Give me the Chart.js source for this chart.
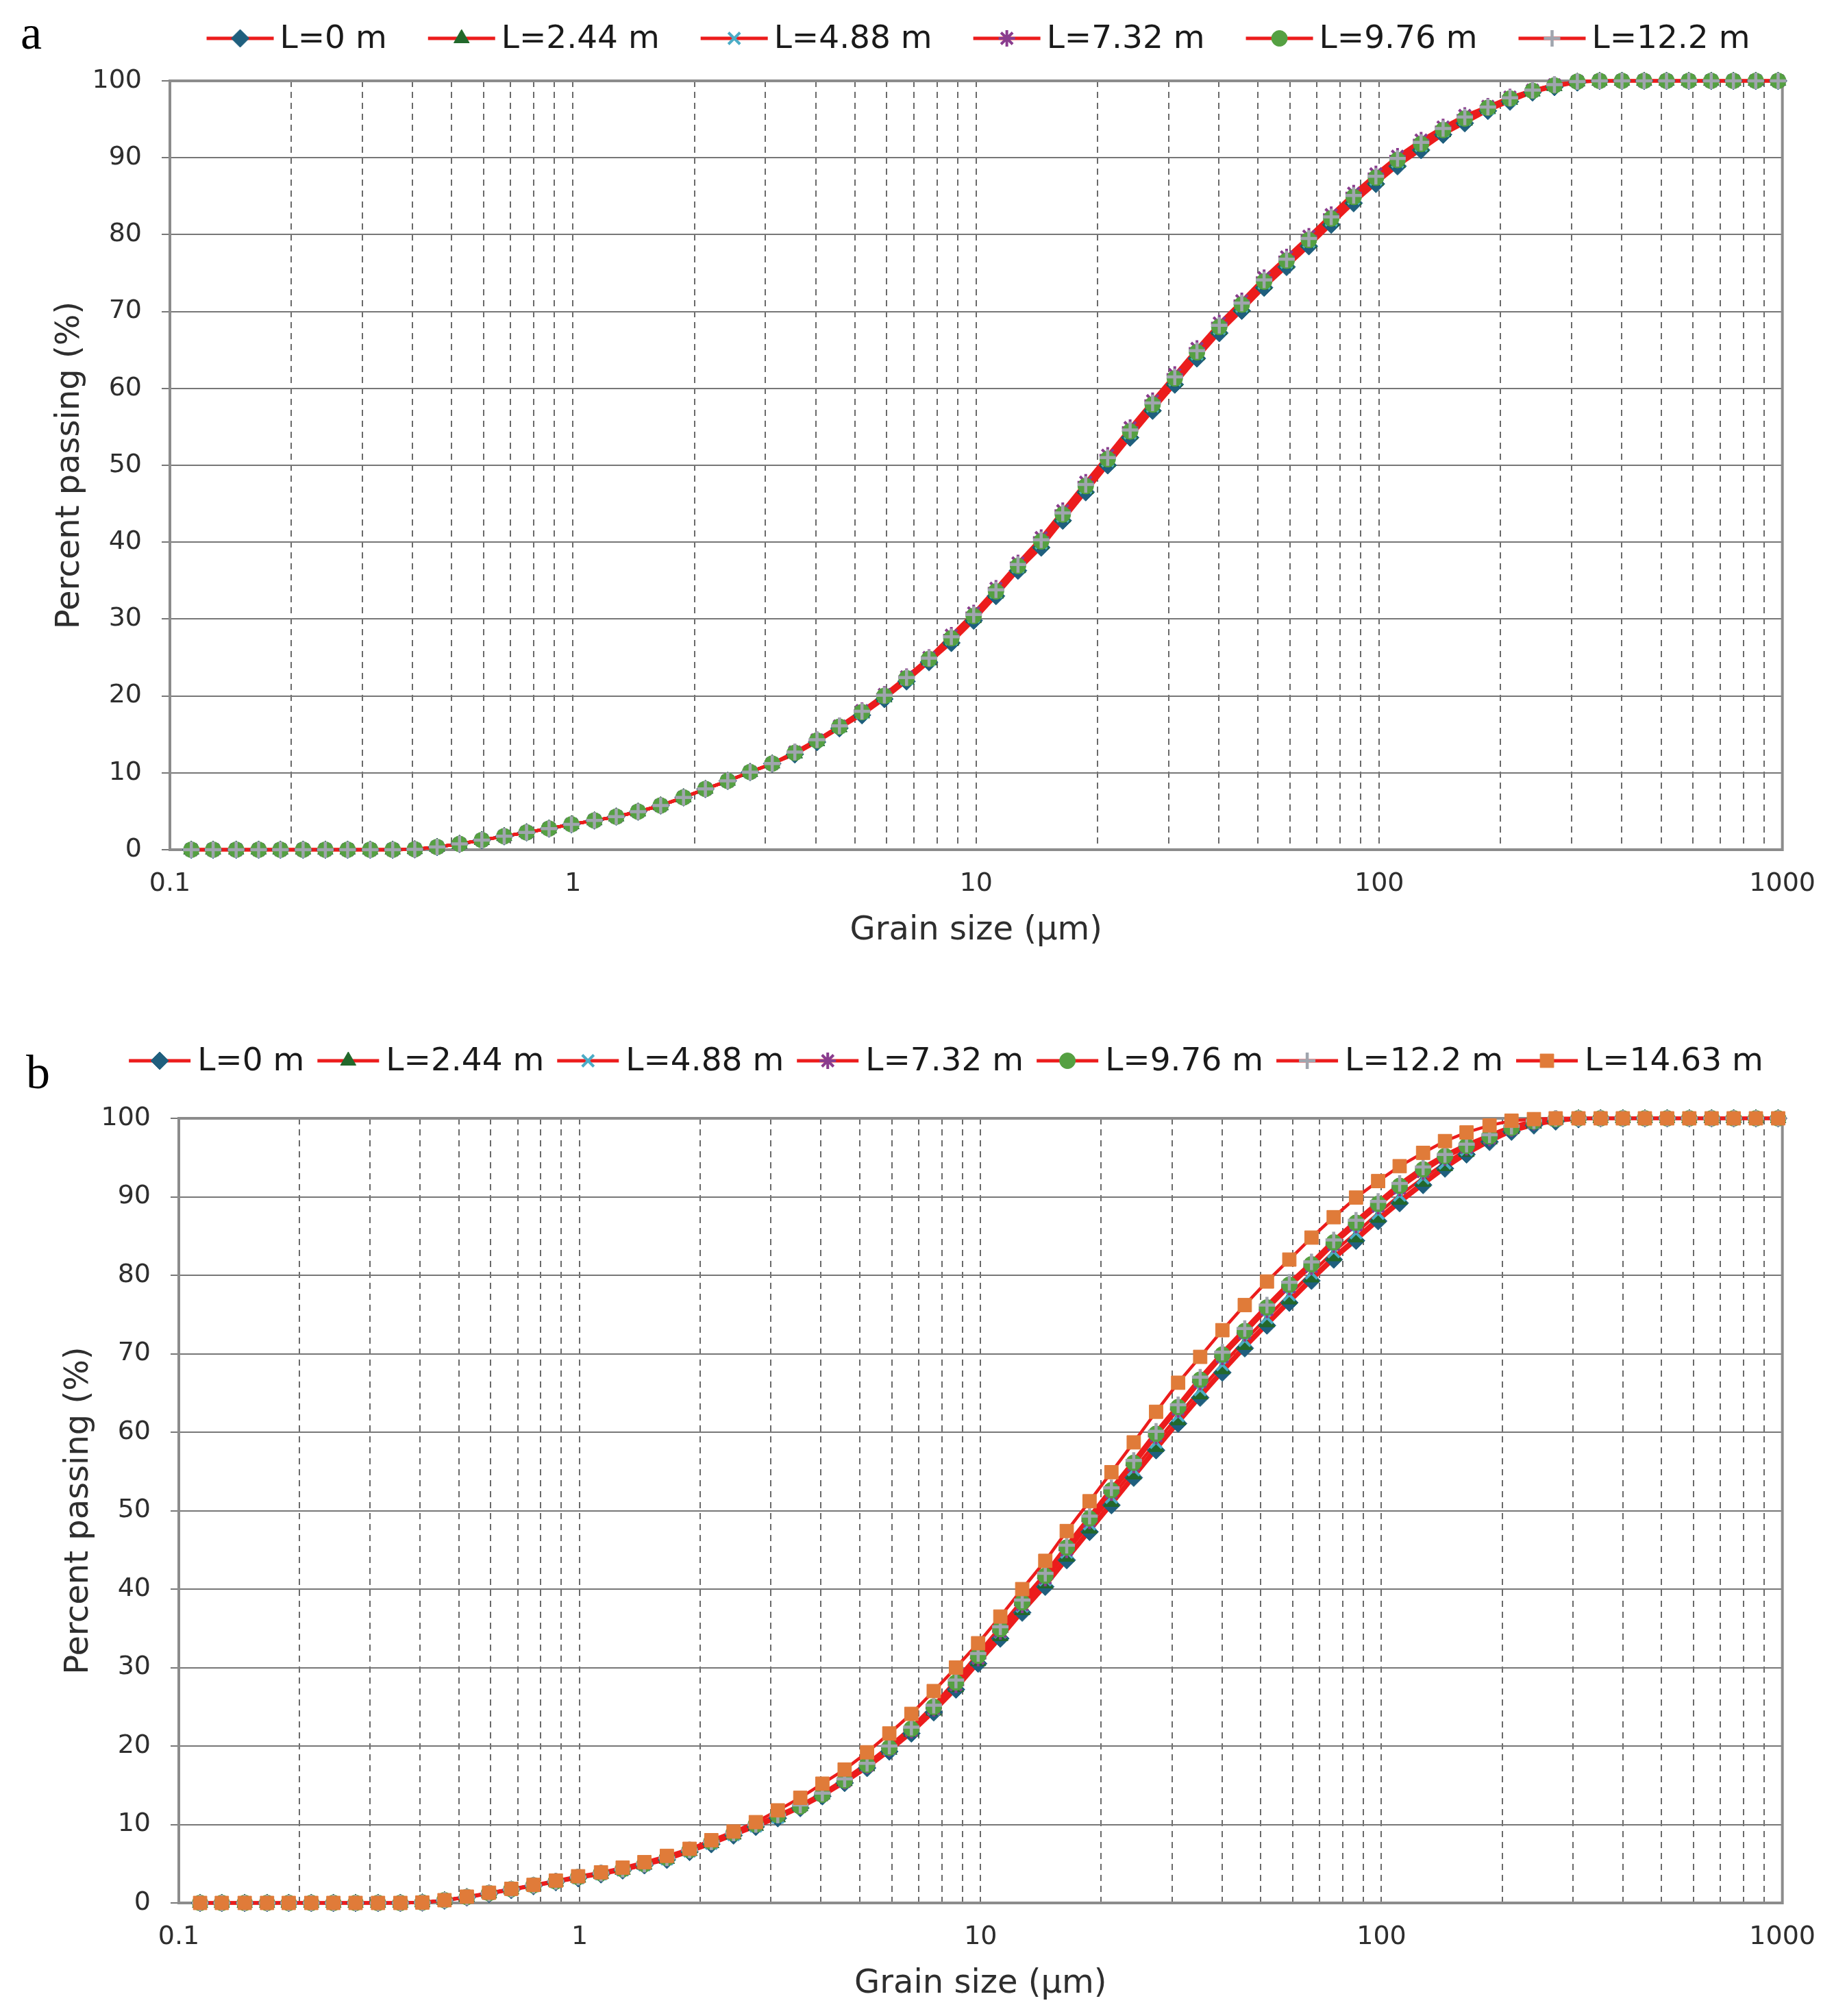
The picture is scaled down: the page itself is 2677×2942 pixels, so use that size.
<!DOCTYPE html>
<html>
<head>
<meta charset="utf-8">
<title>Grain size distribution</title>
<script src="https://cdn.jsdelivr.net/npm/chart.js@4.4.1/dist/chart.umd.min.js"></script>
<style>
  html, body { margin: 0; padding: 0; background: #fff; }
  body { width: 2677px; height: 2942px; position: relative; overflow: hidden; }
  canvas { position: absolute; left: 0; }
  #chartA { top: 0; }
  #chartB { top: 1480px; }
  .lettre {
    position: absolute;
    font-family: "Liberation Serif", "DejaVu Serif", serif;
    font-size: 70px;
    line-height: 70px;
    color: #000;
  }
</style>
</head>
<body>
<div class="lettre" style="left:30px; top:13px;">a</div>
<div class="lettre" style="left:38px; top:1530px;">b</div>
<canvas id="chartA" width="2677" height="1400"></canvas>
<canvas id="chartB" width="2677" height="1462"></canvas>
<script>
/* =====================================
   Données
===================================== */
const grainSizes = [
  0.113, 0.128, 0.146, 0.166, 0.188, 0.214, 0.243, 0.276, 0.314, 0.357,
  0.405, 0.460, 0.523, 0.594, 0.675, 0.767, 0.872, 0.991, 1.13, 1.28,
  1.45, 1.65, 1.88, 2.13, 2.42, 2.75, 3.12, 3.55, 4.03, 4.58,
  5.21, 5.92, 6.72, 7.64, 8.68, 9.86, 11.2, 12.7, 14.5, 16.4,
  18.7, 21.2, 24.1, 27.4, 31.1, 35.3, 40.1, 45.6, 51.8, 58.9,
  66.9, 76.0, 86.4, 98.1, 111, 127, 144, 163, 186, 211,
  240, 272, 310, 352, 400, 454, 516, 586, 666, 756,
  859, 976
];

const namesA = ["L=0 m", "L=2.44 m", "L=4.88 m", "L=7.32 m", "L=9.76 m", "L=12.2 m"];
const namesB = ["L=0 m", "L=2.44 m", "L=4.88 m", "L=7.32 m", "L=9.76 m", "L=12.2 m", "L=14.63 m"];

const xLabelValues = [0.1, 1, 10, 100, 1000];
const xDecades = [0.1, 1, 10, 100];
const xMultiples = [1, 2, 3, 4, 5, 6, 7, 8, 9];

// (a)
const passA_L0 = [
  0, 0, 0, 0, 0, 0, 0, 0, 0, 0,
  0.05, 0.35, 0.75, 1.25, 1.75, 2.25, 2.75, 3.3, 3.8, 4.3,
  4.95, 5.75, 6.8, 7.9, 8.95, 10.1, 11.2, 12.4, 14.0, 15.8,
  17.5, 19.6, 21.9, 24.4, 26.9, 29.8, 33.0, 36.3, 39.3, 42.8,
  46.5, 50.0, 53.6, 57.1, 60.5, 63.9, 67.2, 70.1, 73.1, 75.8,
  78.5, 81.3, 84.1, 86.6, 88.9, 91.0, 93.0, 94.5, 96.1, 97.3,
  98.5, 99.2, 99.8, 100, 100, 100, 100, 100, 100, 100,
  100, 100
];
const passA_L244 = [
  0, 0, 0, 0, 0, 0, 0, 0, 0, 0,
  0.05, 0.35, 0.75, 1.25, 1.75, 2.25, 2.75, 3.3, 3.8, 4.3,
  4.95, 5.75, 6.8, 7.9, 8.95, 10.1, 11.2, 12.5, 14.1, 15.9,
  17.7, 19.8, 22.1, 24.6, 27.2, 30.1, 33.3, 36.6, 39.7, 43.2,
  46.9, 50.4, 54.0, 57.5, 60.9, 64.3, 67.6, 70.5, 73.5, 76.2,
  78.9, 81.7, 84.5, 87.0, 89.3, 91.4, 93.3, 94.8, 96.3, 97.5,
  98.6, 99.3, 99.9, 100, 100, 100, 100, 100, 100, 100,
  100, 100
];
const passA_L488 = [
  0, 0, 0, 0, 0, 0, 0, 0, 0, 0,
  0.05, 0.35, 0.75, 1.25, 1.75, 2.25, 2.75, 3.3, 3.8, 4.3,
  4.95, 5.75, 6.8, 7.9, 8.95, 10.1, 11.2, 12.6, 14.2, 16.0,
  17.8, 19.9, 22.2, 24.7, 27.4, 30.3, 33.5, 36.8, 39.9, 43.4,
  47.1, 50.6, 54.2, 57.7, 61.1, 64.5, 67.8, 70.7, 73.7, 76.4,
  79.1, 81.9, 84.7, 87.2, 89.5, 91.6, 93.5, 95.0, 96.4, 97.6,
  98.7, 99.4, 99.9, 100, 100, 100, 100, 100, 100, 100,
  100, 100
];
const passA_L732 = [
  0, 0, 0, 0, 0, 0, 0, 0, 0, 0,
  0.05, 0.35, 0.75, 1.25, 1.75, 2.25, 2.75, 3.3, 3.8, 4.3,
  4.95, 5.75, 6.8, 7.9, 8.95, 10.1, 11.2, 12.7, 14.3, 16.1,
  18.1, 20.2, 22.5, 25.0, 27.9, 30.8, 34.0, 37.3, 40.6, 44.1,
  47.8, 51.3, 54.9, 58.4, 61.8, 65.2, 68.5, 71.4, 74.4, 77.1,
  79.8, 82.6, 85.4, 87.9, 90.2, 92.3, 94.0, 95.5, 96.7, 97.9,
  98.8, 99.5, 99.9, 100, 100, 100, 100, 100, 100, 100,
  100, 100
];
const passA_L976 = [
  0, 0, 0, 0, 0, 0, 0, 0, 0, 0,
  0.05, 0.35, 0.75, 1.25, 1.75, 2.25, 2.75, 3.3, 3.8, 4.3,
  4.95, 5.75, 6.8, 7.9, 8.95, 10.1, 11.2, 12.6, 14.2, 16.0,
  17.9, 20.0, 22.3, 24.8, 27.5, 30.4, 33.6, 36.9, 40.1, 43.6,
  47.3, 50.8, 54.4, 57.9, 61.3, 64.7, 68.0, 70.9, 73.9, 76.6,
  79.3, 82.1, 84.9, 87.4, 89.7, 91.8, 93.6, 95.1, 96.5, 97.7,
  98.7, 99.4, 99.9, 100, 100, 100, 100, 100, 100, 100,
  100, 100
];
const passA_L122 = [
  0, 0, 0, 0, 0, 0, 0, 0, 0, 0,
  0.05, 0.35, 0.75, 1.25, 1.75, 2.25, 2.75, 3.3, 3.8, 4.3,
  4.95, 5.75, 6.8, 7.9, 8.95, 10.1, 11.2, 12.7, 14.3, 16.1,
  18.0, 20.1, 22.4, 24.9, 27.7, 30.6, 33.8, 37.1, 40.3, 43.8,
  47.5, 51.0, 54.6, 58.1, 61.5, 64.9, 68.2, 71.1, 74.1, 76.8,
  79.5, 82.3, 85.1, 87.6, 89.9, 92.0, 93.8, 95.3, 96.6, 97.8,
  98.8, 99.5, 99.9, 100, 100, 100, 100, 100, 100, 100,
  100, 100
];

// (b)
const passB_L0 = [
  0, 0, 0, 0, 0, 0, 0, 0, 0, 0,
  0.05, 0.3, 0.7, 1.15, 1.65, 2.15, 2.65, 3.15, 3.65, 4.15,
  4.8, 5.5, 6.5, 7.5, 8.6, 9.7, 10.8, 12.1, 13.6, 15.3,
  17.2, 19.3, 21.6, 24.3, 27.2, 30.5, 33.7, 37.0, 40.3, 43.7,
  47.3, 50.7, 54.2, 57.7, 61.1, 64.4, 67.6, 70.7, 73.6, 76.5,
  79.3, 82.0, 84.4, 86.9, 89.2, 91.5, 93.6, 95.4, 97.0, 98.3,
  99.1, 99.6, 99.9, 100, 100, 100, 100, 100, 100, 100,
  100, 100
];
const passB_L244 = [
  0, 0, 0, 0, 0, 0, 0, 0, 0, 0,
  0.05, 0.35, 0.75, 1.2, 1.7, 2.2, 2.7, 3.2, 3.7, 4.2,
  4.85, 5.6, 6.6, 7.6, 8.7, 9.8, 10.9, 12.3, 13.8, 15.5,
  17.4, 19.5, 21.8, 24.5, 27.5, 30.8, 34.0, 37.3, 40.7, 44.1,
  47.7, 51.1, 54.6, 58.1, 61.5, 64.8, 68.0, 71.1, 74.0, 76.9,
  79.7, 82.4, 84.8, 87.3, 89.6, 91.9, 93.9, 95.7, 97.3, 98.6,
  99.3, 99.8, 100, 100, 100, 100, 100, 100, 100, 100,
  100, 100
];
const passB_L488 = [
  0, 0, 0, 0, 0, 0, 0, 0, 0, 0,
  0.05, 0.35, 0.75, 1.2, 1.7, 2.2, 2.7, 3.2, 3.7, 4.2,
  4.85, 5.6, 6.6, 7.6, 8.7, 9.8, 10.9, 12.3, 13.8, 15.5,
  17.5, 19.6, 22.0, 24.7, 27.8, 31.2, 34.5, 37.8, 41.2, 44.7,
  48.3, 51.7, 55.2, 58.7, 62.1, 65.4, 68.6, 71.7, 74.6, 77.5,
  80.3, 83.0, 85.4, 87.9, 90.2, 92.4, 94.3, 96.0, 97.5, 98.7,
  99.4, 99.8, 100, 100, 100, 100, 100, 100, 100, 100,
  100, 100
];
const passB_L732 = [
  0, 0, 0, 0, 0, 0, 0, 0, 0, 0,
  0.05, 0.35, 0.75, 1.25, 1.75, 2.25, 2.75, 3.3, 3.8, 4.3,
  4.95, 5.75, 6.75, 7.8, 8.9, 10.0, 11.2, 12.3, 13.8, 15.5,
  17.5, 19.7, 22.0, 24.8, 27.8, 31.2, 34.6, 38.0, 41.4, 45.0,
  48.7, 52.3, 55.8, 59.5, 62.9, 66.4, 69.6, 72.6, 75.6, 78.5,
  81.1, 83.9, 86.4, 88.8, 91.1, 93.2, 95.0, 96.3, 97.5, 98.7,
  99.5, 99.9, 100, 100, 100, 100, 100, 100, 100, 100,
  100, 100
];
const passB_L976 = [
  0, 0, 0, 0, 0, 0, 0, 0, 0, 0,
  0.05, 0.35, 0.75, 1.25, 1.75, 2.25, 2.75, 3.3, 3.8, 4.3,
  4.95, 5.75, 6.75, 7.8, 8.9, 10.0, 11.2, 12.3, 13.8, 15.6,
  17.6, 19.8, 22.2, 25.0, 28.1, 31.5, 34.9, 38.3, 41.7, 45.3,
  49.0, 52.6, 56.1, 59.8, 63.2, 66.7, 69.9, 72.9, 75.9, 78.8,
  81.4, 84.2, 86.7, 89.1, 91.4, 93.5, 95.2, 96.5, 97.7, 98.8,
  99.6, 99.9, 100, 100, 100, 100, 100, 100, 100, 100,
  100, 100
];
const passB_L122 = [
  0, 0, 0, 0, 0, 0, 0, 0, 0, 0,
  0.05, 0.35, 0.75, 1.25, 1.75, 2.25, 2.75, 3.3, 3.8, 4.3,
  4.95, 5.75, 6.75, 7.8, 8.9, 10.0, 11.2, 12.5, 14.0, 15.8,
  17.8, 20.0, 22.4, 25.2, 28.4, 31.8, 35.2, 38.6, 42.0, 45.6,
  49.3, 52.9, 56.4, 60.1, 63.5, 67.0, 70.2, 73.2, 76.2, 79.1,
  81.7, 84.5, 87.0, 89.4, 91.7, 93.8, 95.4, 96.7, 97.9, 99.0,
  99.7, 100, 100, 100, 100, 100, 100, 100, 100, 100,
  100, 100
];
const passB_L1463 = [
  0, 0, 0, 0, 0, 0, 0, 0, 0, 0,
  0.05, 0.35, 0.8, 1.3, 1.8, 2.3, 2.85, 3.4, 3.9, 4.5,
  5.2, 6.0, 6.9, 8.0, 9.1, 10.3, 11.8, 13.4, 15.2, 17.0,
  19.2, 21.6, 24.1, 27.0, 30.0, 33.1, 36.5, 40.0, 43.6, 47.4,
  51.2, 54.9, 58.7, 62.6, 66.3, 69.6, 73.0, 76.2, 79.2, 82.0,
  84.8, 87.4, 89.9, 92.0, 93.9, 95.6, 97.1, 98.2, 99.1, 99.7,
  99.9, 100, 100, 100, 100, 100, 100, 100, 100, 100,
  100, 100
];

/* =====================================
   Styles
===================================== */
const LINE_RED = "#EC1C1C";
const TEXT_COLOR = "#2e2e2e";
const FONT = "'DejaVu Sans', Verdana, sans-serif";

const markerStyles = [
  { style: "rectRot",  radius: 13,   color: "#1F5F7E", width: 1 },
  { style: "triangle", radius: 13,   color: "#22682B", width: 1 },
  { style: "crossRot", radius: 12,   color: "#4BACC6", width: 4 },
  { style: "star",     radius: 12,   color: "#8A3C8E", width: 4 },
  { style: "circle",   radius: 11.5, color: "#55A042", width: 1 },
  { style: "cross",    radius: 12,   color: "#A0A5AE", width: 4.5 },
  { style: "rect",     radius: 14,   color: "#E07B39", width: 1 }
];

// grille verticale : 0.1, 0.2 ... 1000
const xGridValues = [];
xDecades.forEach(d => xMultiples.forEach(m => xGridValues.push(Math.round(d * m * 10) / 10)));
xGridValues.push(1000);

// comme Excel : toutes les lignes d'abord, puis tous les marqueurs par-dessus
function buildDatasets(names, seriesList) {
  const n = seriesList.length;
  const lines = seriesList.map((values, i) => ({
    label: names[i] + " (ligne)",
    data: grainSizes.map((x, k) => ({ x: x, y: values[k] })),
    borderColor: LINE_RED,
    borderWidth: 4.5,
    pointRadius: 0,
    pointHoverRadius: 0,
    tension: 0,
    clip: false,
    order: 100 + n - i
  }));
  const marks = seriesList.map((values, i) => {
    const m = markerStyles[i];
    return {
      label: names[i],
      legendItem: true,
      data: grainSizes.map((x, k) => ({ x: x, y: values[k] })),
      showLine: false,
      borderColor: LINE_RED,
      pointStyle: m.style,
      pointRadius: m.radius,
      pointHoverRadius: m.radius,
      pointBackgroundColor: m.color,
      pointBorderColor: m.color,
      pointBorderWidth: m.width,
      clip: false,
      order: n - i
    };
  });
  return lines.concat(marks);
}

/* =====================================
   Plugins : cadre + légende
===================================== */
const cadre = {
  id: "cadre",
  beforeDatasetsDraw(chart) {
    const a = chart.chartArea;
    const ctx = chart.ctx;
    ctx.save();
    ctx.strokeStyle = "#8C8C8C";
    ctx.lineWidth = 4;
    ctx.strokeRect(a.left, a.top, a.right - a.left, a.bottom - a.top);
    ctx.restore();
  }
};

const legendeLigne = {
  id: "legendeLigne",
  afterDraw(chart, args, opts) {
    const ctx = chart.ctx;
    const items = chart.data.datasets.filter(ds => ds.legendItem);
    ctx.save();
    ctx.font = opts.fontSize + "px " + FONT;
    ctx.textBaseline = "middle";
    const widths = items.map(ds => ctx.measureText(ds.label).width);
    let total = opts.gap * (items.length - 1);
    widths.forEach(w => total += opts.textOffset + w);
    let x = opts.centerX - total / 2;
    items.forEach((ds, i) => {
      ctx.strokeStyle = ds.borderColor;
      ctx.lineWidth = 5;
      ctx.beginPath();
      ctx.moveTo(x, opts.y);
      ctx.lineTo(x + opts.symbolWidth, opts.y);
      ctx.stroke();

      ctx.fillStyle = ds.pointBackgroundColor;
      ctx.strokeStyle = ds.pointBorderColor;
      ctx.lineWidth = ds.pointBorderWidth;
      if (Chart.helpers && Chart.helpers.drawPoint) {
        Chart.helpers.drawPoint(ctx, {
          pointStyle: ds.pointStyle, radius: ds.pointRadius, rotation: 0, borderWidth: ds.pointBorderWidth
        }, x + opts.symbolWidth / 2, opts.y);
      }

      ctx.fillStyle = "#1a1a1a";
      ctx.fillText(ds.label, x + opts.textOffset, opts.y + 2);
      x += opts.textOffset + widths[i] + opts.gap;
    });
    ctx.restore();
  }
};

/* =====================================
   Graphiques
===================================== */
function makeChart(canvasId, names, seriesList, L) {
  const ctx = document.getElementById(canvasId).getContext("2d");
  return new Chart(ctx, {
    type: "line",
    data: { datasets: buildDatasets(names, seriesList) },
    plugins: [cadre, legendeLigne],
    options: {
      responsive: false,
      animation: false,
      devicePixelRatio: 1,
      layout: { padding: { top: L.top, right: L.right, left: 0, bottom: 0 } },
      plugins: {
        legend: { display: false },
        tooltip: { enabled: false },
        legendeLigne: L.legend
      },
      scales: {
        x: {
          type: "logarithmic",
          min: 0.1,
          max: 1000,
          afterFit: s => { s.height = L.xHeight; },
          afterBuildTicks: s => { s.ticks = xGridValues.map(v => ({ value: v })); },
          grid: { color: "#6a6a6a", lineWidth: 2, drawTicks: false },
          border: { display: false, dash: [9, 7] },
          ticks: {
            autoSkip: false,
            maxRotation: 0,
            minRotation: 0,
            padding: 27,
            color: TEXT_COLOR,
            font: { family: FONT, size: 38 },
            callback: v => xLabelValues.some(t => Math.abs(t - v) < 1e-9) ? (v < 1 ? v.toFixed(1) : String(Math.round(v))) : ""
          },
          title: {
            display: true,
            text: "Grain size (µm)",
            color: TEXT_COLOR,
            font: { family: FONT, size: 48 },
            padding: { top: 0, bottom: L.xTitlePad }
          }
        },
        y: {
          min: 0,
          max: 100,
          afterFit: s => { s.width = L.yWidth; },
          grid: { color: "#777777", lineWidth: 2, tickLength: 12 },
          border: { display: false },
          ticks: {
            stepSize: 10,
            padding: 29,
            color: TEXT_COLOR,
            font: { family: FONT, size: 38 }
          },
          title: {
            display: true,
            text: "Percent passing (%)",
            color: TEXT_COLOR,
            font: { family: FONT, size: 48 },
            padding: { top: L.yTitlePad, bottom: 0 }
          }
        }
      }
    }
  });
}

makeChart("chartA", namesA,
  [passA_L0, passA_L244, passA_L488, passA_L732, passA_L976, passA_L122],
  {
    top: 118, right: 56, yWidth: 248, xHeight: 160, yTitlePad: 74, xTitlePad: 13,
    legend: { centerX: 1428, y: 56, fontSize: 47, symbolWidth: 98, textOffset: 107, gap: 60 }
  });

makeChart("chartB", namesB,
  [passB_L0, passB_L244, passB_L488, passB_L732, passB_L976, passB_L122, passB_L1463],
  {
    top: 152, right: 70, yWidth: 261, xHeight: 165, yTitlePad: 87, xTitlePad: 18,
    legend: { centerX: 1381, y: 68, fontSize: 47, symbolWidth: 90, textOffset: 100, gap: 19 }
  });
</script>
</body>
</html>
